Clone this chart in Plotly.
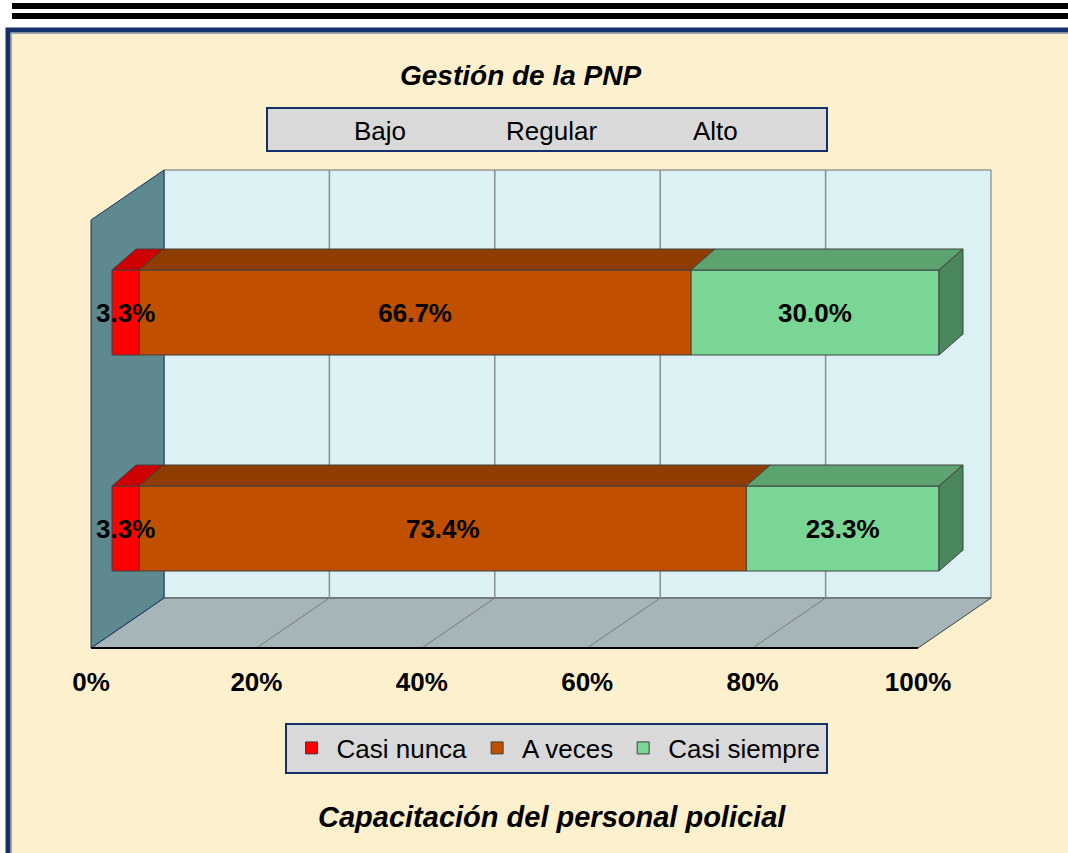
import plotly.graph_objects as go

# ---------------- data ----------------
filas = ["Fila 1", "Fila 2"]          # top bar, bottom bar (hidden labels)
series = ["Casi nunca", "A veces", "Casi siempre"]
casi_nunca = [3.3, 3.3]
a_veces = [66.7, 73.4]
casi_siempre = [30.0, 23.3]
encabezado = ["Bajo", "Regular", "Alto"]
tick_vals = [0, 20, 40, 60, 80, 100]
tick_text = ["0%", "20%", "40%", "60%", "80%", "100%"]
titulo = "Gestión de la PNP"
titulo_x = "Capacitación del personal policial"

# ---------------- styles / geometry ----------------
W, H = 1068, 853
PB = 652                       # plot-area bottom in px
X0_PX, PX_PER_X = 91.0, 8.27   # 0% on front floor edge
Y0_PX, PX_PER_Y = 528.5, 216.0 # centre of lowest bar row

DXW, DYW = 73 / PX_PER_X, 50 / PX_PER_Y      # wall depth
FY = (Y0_PX - 648) / PX_PER_Y                 # front floor edge
WT = (Y0_PX - 170) / PX_PER_Y                 # back wall top
OB = 21 / PX_PER_X                            # bar plane offset
DXB, DYB = 24 / PX_PER_X, 21 / PX_PER_Y       # bar depth
BW = 85 / PX_PER_Y                            # bar thickness

front_cols = ["#FF0000", "#C05000", "#7AD694"]
top_cols = ["#CC0000", "#8F3C00", "#5CA36F"]
side_col = "#4B875C"
edge = "#404040"
navy = "#13306B"
FONT = "Liberation Sans, Arial, sans-serif"


def px(x):
    return x / W


def py(y):
    return (PB - y) / PB


vals = [casi_nunca, a_veces, casi_siempre]
n = len(filas)
ypos = [n - 1 - i for i in range(n)]

fig = go.Figure()

# cumulative starts
starts = []
run = [0.0] * n
for v in vals:
    starts.append(list(run))
    run = [run[i] + v[i] for i in range(n)]

# front faces (real bars) - added in reverse so earlier labels sit on top
for k in reversed(range(len(series))):
    fig.add_trace(go.Bar(
        name=series[k], orientation="h", y=ypos, x=vals[k],
        base=[s + OB for s in starts[k]], width=BW,
        marker=dict(color=front_cols[k], line=dict(color=edge, width=1)),
        text=[f"{v:.1f}%" for v in vals[k]],
        textposition="inside", insidetextanchor="middle", textangle=0,
        constraintext="none", cliponaxis=False,
        insidetextfont=dict(family=FONT, size=26, color="black", weight="bold"),
        hoverinfo="skip",
    ))

# top faces
for k in range(len(series)):
    xs, ys = [], []
    for i in range(n):
        a = starts[k][i] + OB
        b = a + vals[k][i]
        yt = ypos[i] + BW / 2
        xs += [a, b, b + DXB, a + DXB, a, None]
        ys += [yt, yt, yt + DYB, yt + DYB, yt, None]
    fig.add_trace(go.Scatter(x=xs, y=ys, mode="lines", fill="toself",
                             fillcolor=top_cols[k], line=dict(color=edge, width=1),
                             showlegend=False, hoverinfo="skip"))

# right side faces of the last segment
xs, ys = [], []
for i in range(n):
    e = run[i] + OB
    yb, yt = ypos[i] - BW / 2, ypos[i] + BW / 2
    xs += [e, e + DXB, e + DXB, e, e, None]
    ys += [yb, yb + DYB, yt + DYB, yt, yb, None]
fig.add_trace(go.Scatter(x=xs, y=ys, mode="lines", fill="toself",
                         fillcolor=side_col, line=dict(color=edge, width=1),
                         showlegend=False, hoverinfo="skip"))

shapes = []
# page decoration
for y0, y1 in [(3, 9), (13, 19)]:
    shapes.append(dict(type="rect", xref="paper", yref="paper", layer="below",
                       x0=px(12), x1=px(W + 5), y0=py(y0), y1=py(y1),
                       fillcolor="black", line=dict(width=0)))
shapes.append(dict(type="rect", xref="paper", yref="paper", layer="below",
                   x0=px(8), x1=px(W + 60), y0=py(30), y1=py(H + 60),
                   fillcolor="#FDF0CC", line=dict(color=navy, width=5)))
shapes.append(dict(type="rect", xref="paper", yref="paper", layer="below",
                   x0=px(11.5), x1=px(W + 60), y0=py(33.5), y1=py(H + 60),
                   fillcolor="rgba(0,0,0,0)", line=dict(color="#9AA3B5", width=1)))
# header box
shapes.append(dict(type="rect", xref="paper", yref="paper", layer="below",
                   x0=px(267), x1=px(827), y0=py(108), y1=py(151),
                   fillcolor="#D9D9D9", line=dict(color=navy, width=2)))

# 3-D walls (axis coordinates)
shapes.append(dict(type="rect", xref="x", yref="y", layer="below",
                   x0=DXW, x1=100 + DXW, y0=FY + DYW, y1=WT,
                   fillcolor="#DBF1F4", line=dict(color="#6E6E6E", width=1)))
shapes.append(dict(type="path", xref="x", yref="y", layer="below",
                   path=f"M0,{FY} L100,{FY} L{100 + DXW},{FY + DYW} L{DXW},{FY + DYW} Z",
                   fillcolor="#A5B5B8", line=dict(color="#404040", width=1)))
shapes.append(dict(type="path", xref="x", yref="y", layer="below",
                   path=f"M0,{FY} L0,{WT - DYW} L{DXW},{WT} L{DXW},{FY + DYW} Z",
                   fillcolor="#5E8A8F", line=dict(color=navy, width=1)))
for v in tick_vals[1:-1]:
    shapes.append(dict(type="line", xref="x", yref="y", layer="below",
                       x0=v + DXW, x1=v + DXW, y0=FY + DYW, y1=WT,
                       line=dict(color="#8C8C8C", width=1.5)))
    shapes.append(dict(type="line", xref="x", yref="y", layer="below",
                       x0=v, x1=v + DXW, y0=FY, y1=FY + DYW,
                       line=dict(color="#7A7A7A", width=1)))
shapes.append(dict(type="line", xref="x", yref="y", layer="below",
                   x0=0, x1=100, y0=FY, y1=FY, line=dict(color="black", width=2)))

annotations = [
    dict(text=titulo, xref="paper", yref="paper", x=px(520), y=py(75),
         xanchor="center", yanchor="middle",
         showarrow=False, font=dict(family=FONT, size=28, color="black",
                                    weight="bold", style="italic")),
    dict(text=titulo_x, xref="paper", yref="paper", x=px(552), y=py(817),
         xanchor="center", yanchor="middle",
         showarrow=False, font=dict(family=FONT, size=29, color="black",
                                    weight="bold", style="italic")),
]
for t, cx in zip(encabezado, [380, 551, 715]):
    annotations.append(dict(text=t, xref="paper", yref="paper", x=px(cx), y=py(131),
                            xanchor="center", yanchor="middle",
                            showarrow=False, font=dict(family=FONT, size=26, color="black")))

fig.update_layout(
    width=W, height=H,
    margin=dict(l=0, r=0, t=0, b=H - PB, pad=0),
    paper_bgcolor="white", plot_bgcolor="rgba(0,0,0,0)",
    barmode="overlay",
    showlegend=True,
    legend=dict(orientation="h", x=px(556), xanchor="center", y=py(748), yanchor="middle",
                bgcolor="#D9D9D9", bordercolor=navy, borderwidth=2, itemwidth=40,
                font=dict(family=FONT, size=26, color="black"), traceorder="reversed"),
    xaxis=dict(range=[(0 - X0_PX) / PX_PER_X, (W - X0_PX) / PX_PER_X],
               showgrid=False, zeroline=False, showline=False,
               tickvals=tick_vals, ticktext=tick_text, ticks="",
               ticklabelstandoff=12,
               tickfont=dict(family=FONT, size=26, color="black", weight="bold"),
               fixedrange=True),
    yaxis=dict(range=[(Y0_PX - PB) / PX_PER_Y, Y0_PX / PX_PER_Y], visible=False,
               fixedrange=True),
    shapes=shapes, annotations=annotations,
)

fig.write_html("out.html", config={"displayModeBar": False},
               post_script="document.body.style.margin='0px';")
